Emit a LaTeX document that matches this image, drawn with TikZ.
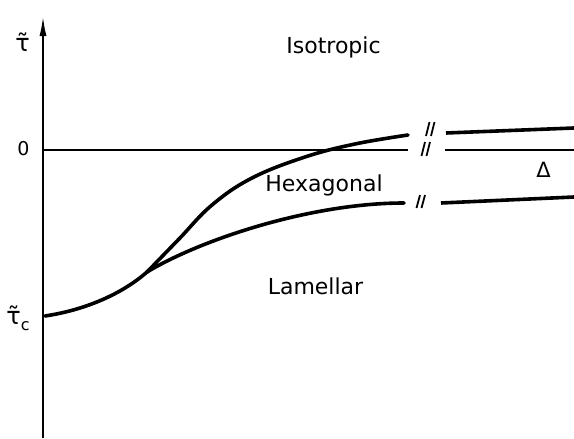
\documentclass[tikz,border=0pt]{standalone}
\usepackage{fontspec}
\setmainfont{DejaVu Sans}
\usetikzlibrary{arrows.meta}
\tikzset{
  lbl/.style={inner sep=0pt, font=\fontsize{22}{24}\selectfont},
  axislbl/.style={inner sep=0pt, font=\fontsize{19}{22}\selectfont},
  taulbl/.style={inner sep=0pt, font=\fontsize{24}{26}\selectfont},
  curve/.style={line width=3.6pt, line cap=round, line join=round},
  breakmark/.style={line width=1.8pt},
  axisline/.style={line width=2pt},
  zeroline/.style={line width=1.3pt}
}
\begin{document}
\begin{tikzpicture}[x=1pt,y=-1pt]
\useasboundingbox (0,0) rectangle (574,439);
% axis
\coordinate (axbot) at (43,438);
\coordinate (axtop) at (43,16);
\draw[axisline,-{Latex[length=20pt,width=7pt]}] (axbot) -- (axtop);
% zero line
\coordinate (z0) at (43,150);
\coordinate (z1) at (408,150);
\coordinate (z2) at (445,150);
\coordinate (z3) at (574,150);
\draw[zeroline] (z0) -- (z1);
\draw[zeroline] (z2) -- (z3);
% curves
\coordinate (start) at (45,316);
\coordinate (triple) at (147,272);
\coordinate (uend) at (408,135);
\coordinate (lend) at (404,203);
\draw[curve] (start) .. controls (85,310) and (122,294) .. (triple);
\draw[curve] plot[smooth, tension=0.65] coordinates {(triple) (179,239) (212,205) (252,178) (305,157) (355,144) (uend)};
\draw[curve] (triple) .. controls (200,240) and (310,203) .. (lend);
\coordinate (u1) at (446,133);
\coordinate (u2) at (574,128);
\coordinate (l1) at (441,203);
\coordinate (l2) at (574,197);
\draw[curve, line cap=butt] (u1) -- (u2);
\draw[curve, line cap=butt] (l1) -- (l2);
% break marks
\draw[breakmark] (426,136) -- (429.5,122);
\draw[breakmark] (431,136) -- (434.5,122);
\draw[breakmark] (421.5,156) -- (425,142);
\draw[breakmark] (426.5,156) -- (430,142);
\draw[breakmark] (416.5,208) -- (420,195);
\draw[breakmark] (421.5,208) -- (425,195);
% labels
\node[lbl] (iso) at (333.5,47) {Isotropic};
\node[lbl] (hex) at (324,185) {Hexagonal};
\node[lbl] (lam) at (315.5,286) {Lamellar};
\node[axislbl] (zero) at (23.5,149) {0};
\node[inner sep=0pt, font=\fontsize{21}{24}\selectfont] (delta) at (543.5,170) {Δ};
\node[taulbl] (tau) at (22.5,42) {τ̃};
\node[taulbl] (tauc) at (18,318) {τ̃\raisebox{-0.25em}{\fontsize{16}{18}\selectfont c}};
\end{tikzpicture}
\end{document}
